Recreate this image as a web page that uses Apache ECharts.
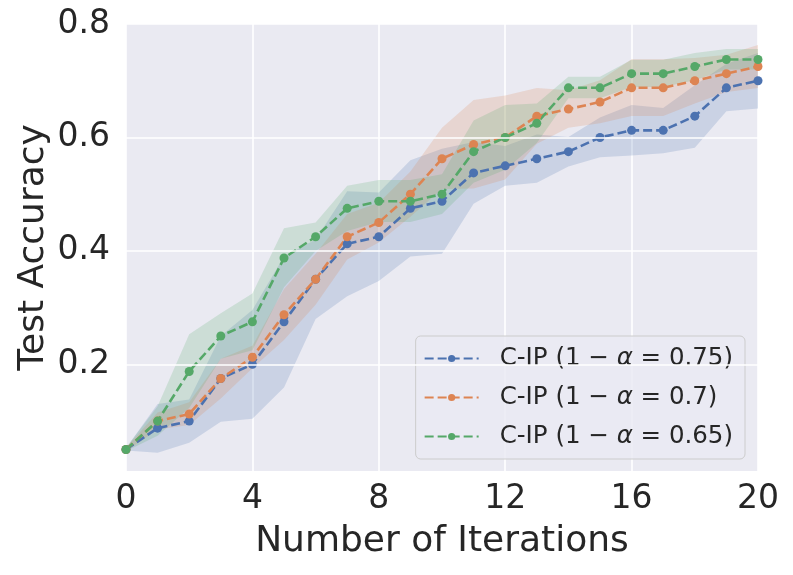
<!DOCTYPE html>
<html>
<head>
<meta charset="utf-8">
<script src="https://cdn.jsdelivr.net/npm/echarts@6/dist/echarts.min.js"></script>
<style>
html,body{margin:0;padding:0;background:#fff;}
#chart{width:793px;height:575px;}
</style>
</head>
<body>
<div id="chart"></div>
<script>
const iterations = [0,1,2,3,4,5,6,7,8,9,10,11,12,13,14,15,16,17,18,19,20];
const xTicks = [0,4,8,12,16,20];
const yTicks = [0.2,0.4,0.6,0.8];
const seriesNames = ['C-IP (1 − α = 0.75)','C-IP (1 − α = 0.7)','C-IP (1 − α = 0.65)'];

const blueMean  = [0.05,0.0875,0.1,0.175,0.2,0.275,0.35,0.4125,0.425,0.475,0.4875,0.5375,0.55,0.5625,0.575,0.6,0.6125,0.6125,0.6375,0.6875,0.7];
const blueLower = [0.048,0.044,0.062,0.099,0.104,0.159,0.28,0.32,0.347,0.39,0.395,0.483,0.515,0.52,0.549,0.565,0.568,0.572,0.582,0.646,0.651];
const blueUpper = [0.052,0.13,0.138,0.25,0.296,0.39,0.42,0.505,0.503,0.56,0.58,0.592,0.585,0.605,0.601,0.635,0.657,0.652,0.692,0.73,0.749];

const orangeMean  = [0.05,0.1,0.1125,0.175,0.2125,0.2875,0.35,0.425,0.45,0.5,0.5625,0.5875,0.6,0.6375,0.65,0.6625,0.6875,0.6875,0.7,0.7125,0.725];
const orangeLower = [0.047,0.085,0.093,0.14,0.193,0.243,0.305,0.385,0.415,0.46,0.509,0.51,0.526,0.589,0.617,0.625,0.638,0.638,0.66,0.68,0.687];
const orangeUpper = [0.053,0.115,0.133,0.21,0.233,0.333,0.395,0.465,0.485,0.54,0.617,0.666,0.674,0.687,0.683,0.701,0.738,0.738,0.74,0.746,0.763];

const greenMean  = [0.05,0.1,0.1875,0.25,0.275,0.3875,0.425,0.475,0.4875,0.4875,0.5,0.575,0.6,0.625,0.6875,0.6875,0.7125,0.7125,0.725,0.7375,0.7375];
const greenLower = [0.047,0.074,0.123,0.21,0.225,0.336,0.4,0.435,0.451,0.451,0.465,0.52,0.543,0.59,0.669,0.669,0.689,0.689,0.701,0.72,0.72];
const greenUpper = [0.053,0.126,0.253,0.29,0.325,0.44,0.45,0.515,0.525,0.525,0.535,0.63,0.657,0.66,0.707,0.707,0.737,0.737,0.749,0.756,0.756];

const colors = ['#4C72B0','#DD8452','#55A868'];
const means = [blueMean, orangeMean, greenMean];
const lowers = [blueLower, orangeLower, greenLower];
const uppers = [blueUpper, orangeUpper, greenUpper];

const textColor = '#262626';
const font = 'DejaVu Sans';
const yMin = 0.012, yMax = 0.8;

function bandSeries(k){
  const lo = lowers[k], hi = uppers[k];
  return {
    type:'custom', name:'band'+k, silent:true, z:1, clip:true,
    data: iterations.map((x,i)=>[x, lo[i], hi[i]]),
    encode:{x:0, y:[1,2]},
    renderItem:function(params, api){
      if(params.dataIndex !== 0) return null;
      const pts = [];
      for(let i=0;i<iterations.length;i++) pts.push(api.coord([iterations[i], hi[i]]));
      for(let i=iterations.length-1;i>=0;i--) pts.push(api.coord([iterations[i], lo[i]]));
      return {type:'polygon', shape:{points:pts}, style:{fill:colors[k], opacity:0.2}};
    }
  };
}
function lineSeries(k){
  return {
    type:'line', name:seriesNames[k], z:3,
    data: iterations.map((x,i)=>[x, means[k][i]]),
    symbol:'circle', symbolSize:9, showSymbol:true,
    itemStyle:{color:colors[k]},
    lineStyle:{color:colors[k], width:2.6, type:[9,4]},
    emphasis:{disabled:true}, animation:false
  };
}
// gridlines and labels for the y axis at the tick values (axis min is not a tick multiple)
const yGridSeries = {
  type:'line', name:'ygrid', data:[], silent:true, z:0,
  markLine:{
    silent:true, symbol:['none','none'], animation:false,
    lineStyle:{color:'#ffffff', width:1.6, type:'solid'},
    label:{show:false},
    data: yTicks.map(t=>({yAxis:t}))
  }
};

const chart = echarts.init(document.getElementById('chart'), null, {renderer:'canvas'});
chart.setOption({
  animation:false,
  grid:{left:126, right:35, top:24, bottom:104, show:true, backgroundColor:'#EAEAF2', borderWidth:0},
  xAxis:{
    type:'value', min:0, max:20, interval:4,
    name:'Number of Iterations', nameLocation:'middle', nameGap:53,
    nameTextStyle:{fontFamily:font, fontSize:36, color:textColor},
    axisLine:{show:false}, axisTick:{show:false},
    axisLabel:{fontFamily:font, fontSize:33, color:textColor, margin:12,
      formatter:v=> xTicks.indexOf(v)>=0 ? String(v) : ''},
    splitLine:{show:true, lineStyle:{color:'#ffffff', width:1.6}}
  },
  yAxis:[{
    type:'value', min:yMin, max:yMax,
    name:'Test Accuracy', nameLocation:'middle', nameGap:74,
    nameTextStyle:{fontFamily:font, fontSize:36, color:textColor},
    axisLine:{show:false}, axisTick:{show:false},
    axisLabel:{show:false},
    splitLine:{show:false}
  },{
    type:'value', min:0, max:yMax, interval:0.2, position:'left',
    show:true, axisLine:{show:false}, axisTick:{show:false}, splitLine:{show:false},
    axisLabel:{show:false}
  }],
  graphic: [],
  legend:{
    data:seriesNames, orient:'vertical', right:48, bottom:116,
    backgroundColor:'rgba(234,234,242,0.8)', borderColor:'#cccccc', borderWidth:1, borderRadius:5,
    padding:[10,12,10,8], itemGap:14, itemWidth:54, itemHeight:9,
    textStyle:{fontFamily:font, fontSize:24.5, color:textColor, padding:[0,0,0,16],
      rich:{i:{fontFamily:font, fontSize:24.5, fontStyle:'italic', color:textColor}}},
    formatter:name=>name.replace('α','{i|α}')
  },
  series:[yGridSeries, bandSeries(0), bandSeries(1), bandSeries(2), lineSeries(0), lineSeries(1), lineSeries(2)]
});

// y tick labels placed through the data axis' own scale
function placeYLabels(){
  const g = yTicks.map(t=>{
    const p = chart.convertToPixel({yAxisIndex:0}, t);
    return {type:'text', x:126-16, y:p, style:{text:t.toFixed(1), fontFamily:font, fontSize:33, fill:textColor, align:'right', verticalAlign:'middle'}, silent:true};
  });
  chart.setOption({graphic:g});
}
placeYLabels();
</script>
</body>
</html>
